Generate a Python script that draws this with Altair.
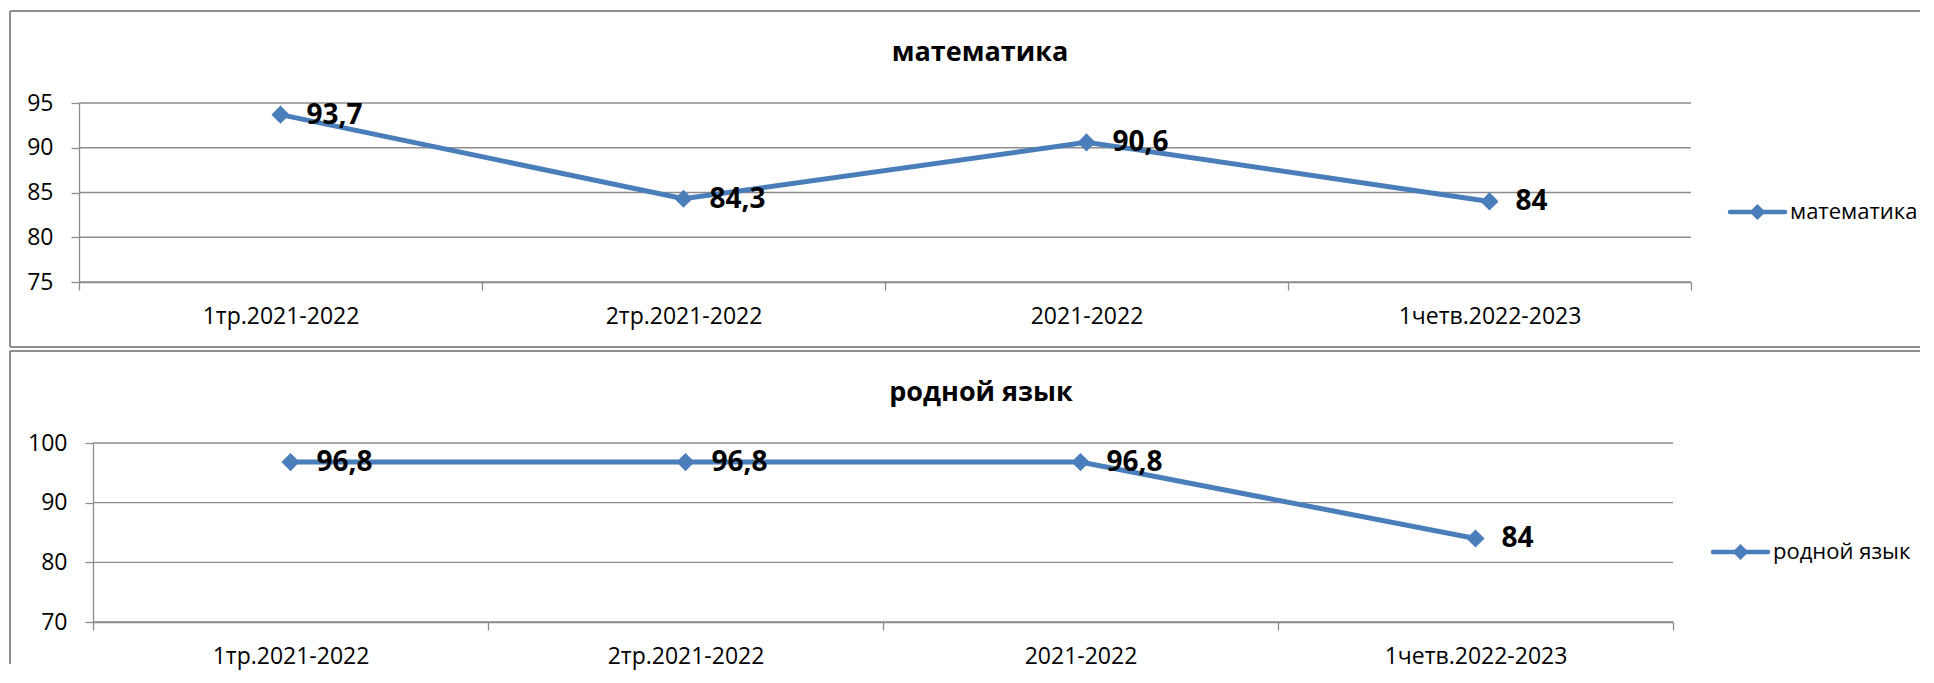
import altair as alt
import pandas as pd

# ---- data ----
categories = ["1тр.2021-2022", "2тр.2021-2022", "2021-2022", "1четв.2022-2023"]
math_values = [93.7, 84.3, 90.6, 84]
lang_values = [96.8, 96.8, 96.8, 84]
math_ticks = [75, 80, 85, 90, 95]
lang_ticks = [70, 80, 90, 100]
series_names = ["математика", "родной язык"]

# ---- style ----
BLUE = "#4A7EBB"
GRID = "#8C8C8C"
FRAME = "#8E8E8E"
FONT = "Open Sans"
ORIGIN_X = 93  # page x of the aligned view origin


def panel(values, ticks, name, plot_left, plot_right, oy, frame_top, frame_bottom,
          legend_x1, title_cx, page_right=1920, page_left=10):
    df = pd.DataFrame({"cat": categories, "v": values})
    one = pd.DataFrame({"t": [name]})
    tdf = pd.DataFrame({"tick": ticks})

    ox = ORIGIN_X
    r0 = plot_left - ox
    r1 = plot_right - ox
    W = r1  # view width

    x = alt.X(
        "cat:N", sort=categories, bandPosition=0.5,
        scale=alt.Scale(type="band", paddingInner=0, paddingOuter=0, range=[r0, r1]),
        axis=alt.Axis(title=None, tickBand="extent", grid=False, labelAngle=0,
                      domainColor=GRID, tickColor=GRID, tickSize=8, domainWidth=1.3,
                      tickWidth=1.3, labelFontSize=23, labelFont=FONT, labelLimit=0,
                      labelColor="black", labelPadding=26, labelBaseline="middle"),
    )
    yscale = alt.Scale(domain=[ticks[0], ticks[-1]], nice=False, zero=False)
    y = alt.Y(
        "v:Q", scale=yscale,
        axis=alt.Axis(title=None, values=ticks, grid=False, offset=-r0,
                      domainColor=GRID, domainWidth=1.3,
                      tickColor=GRID, tickWidth=1.3, tickSize=8,
                      labelFontSize=23, labelFont=FONT, labelColor="black",
                      labelPadding=18),
    )
    grid = alt.Chart(tdf).mark_rule(color=GRID, strokeWidth=1.3).encode(
        y=alt.Y("tick:Q", scale=yscale), x=alt.value(r0), x2=alt.value(r1))

    base = alt.Chart(df).encode(x=x, y=y)
    line = base.mark_line(color=BLUE, strokeWidth=5)
    pts = base.mark_point(shape="diamond", filled=True, size=330, color=BLUE, opacity=1)
    lbl = base.transform_calculate(
        label="replace(format(datum.v, '.1~f'), '.', ',')"
    ).mark_text(align="left", baseline="middle", dx=26, dy=1, fontSize=28,
                fontWeight="bold", font=FONT, color="black").encode(text="label:N")

    fl = page_left - ox
    fr = page_right - ox
    ft = frame_top - oy
    frame = [
        alt.Chart(one).mark_rule(color=FRAME, strokeWidth=2).encode(
            x=alt.value(fl), x2=alt.value(fr), y=alt.value(ft)),
        alt.Chart(one).mark_rule(color=FRAME, strokeWidth=2).encode(
            x=alt.value(fl), y=alt.value(ft), y2=alt.value(frame_bottom - oy)),
    ]
    if frame_bottom < 660:
        frame.append(alt.Chart(one).mark_rule(color=FRAME, strokeWidth=2).encode(
            x=alt.value(fl), x2=alt.value(fr), y=alt.value(frame_bottom - oy)))

    title = alt.Chart(one).mark_text(fontSize=27, fontWeight="bold", font=FONT,
                                     align="center", baseline="middle",
                                     color="black").encode(
        x=alt.value(title_cx - ox), y=alt.value(-50), text="t:N")

    lx1 = legend_x1 - ox
    lx2 = lx1 + 55
    ly = 109
    leg_line = alt.Chart(one).mark_rule(color=BLUE, strokeWidth=4.5, strokeCap="round").encode(
        x=alt.value(lx1), x2=alt.value(lx2), y=alt.value(ly))
    leg_pt = alt.Chart(one).mark_point(shape="diamond", filled=True, size=260,
                                       color=BLUE, opacity=1).encode(
        x=alt.value((lx1 + lx2) / 2), y=alt.value(ly))
    leg_txt = alt.Chart(one).mark_text(align="left", baseline="middle", fontSize=22,
                                       font=FONT, color="black").encode(
        x=alt.value(lx2 + 5), y=alt.value(ly), text="t:N")

    return alt.layer(*frame, grid, line, pts, lbl, title, leg_line, leg_pt, leg_txt).properties(
        width=W, height=179)


top = panel(math_values, math_ticks, series_names[0], 79, 1691, 103,
            11, 347, 1730, 980)
bottom = panel(lang_values, lang_ticks, series_names[1], 93, 1673, 443,
               351, 664, 1713, 981)

chart = alt.concat(top, bottom, columns=1, spacing=2).properties(
    padding={"left": 1, "top": 2, "right": 0, "bottom": 5}
).configure_view(strokeWidth=0)

chart.save("out.html", embed_options={"renderer": "svg", "actions": False})
